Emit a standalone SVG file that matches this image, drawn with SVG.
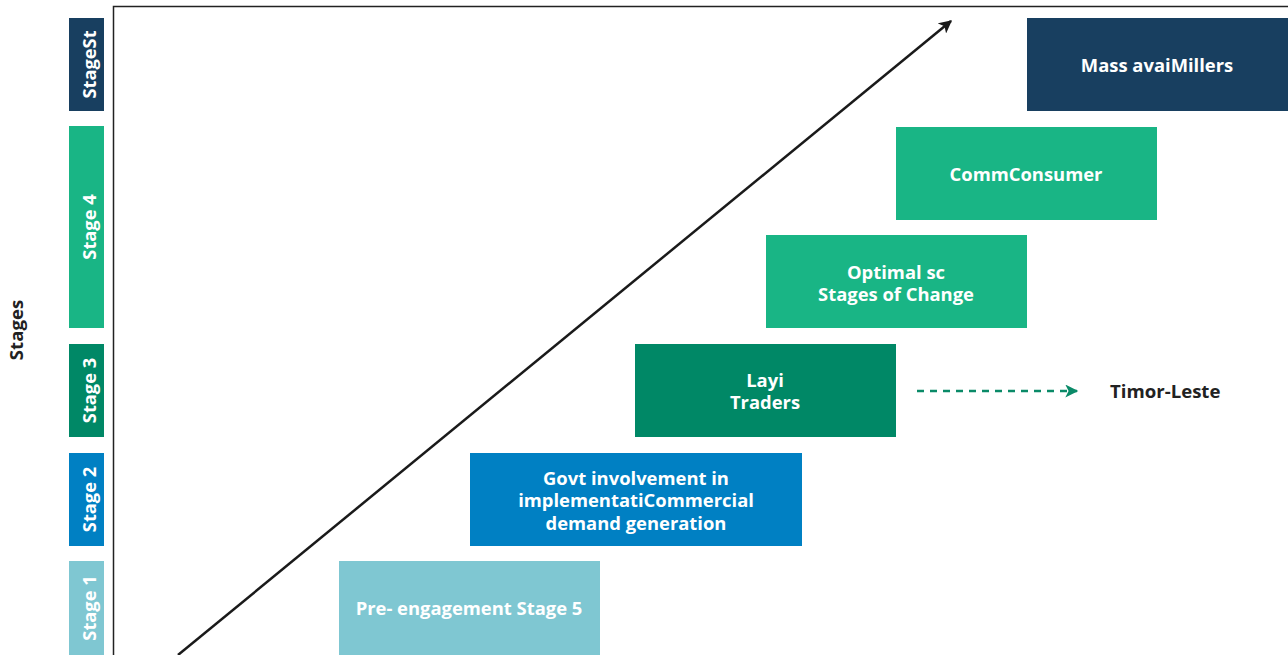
<svg xmlns="http://www.w3.org/2000/svg" width="1288" height="655" viewBox="0 0 1288 655">
<defs>
<style>
.t{font-family:"Open Sans","Liberation Sans",sans-serif;font-weight:bold;font-size:18.4px;fill:#fff;text-anchor:middle;dominant-baseline:central}
.s{font-family:"Open Sans","Liberation Sans",sans-serif;font-weight:bold;font-size:18.3px;fill:#fff;text-anchor:middle;dominant-baseline:central}
.d{font-family:"Open Sans","Liberation Sans",sans-serif;font-weight:bold;font-size:18.6px;fill:#222;dominant-baseline:central}
.navy{fill:#183f60}.green{fill:#19b585}.dgreen{fill:#008866}.blue{fill:#0080c3}.lblue{fill:#7fc7d2}
</style>
<marker id="ah" viewBox="0 0 10 10" refX="9" refY="5" markerWidth="14" markerHeight="13" markerUnits="userSpaceOnUse" orient="auto"><path d="M0,0 L10,5 L0,10 L2.5,5 z" fill="#1a1a1a"/></marker>
<marker id="ahg" viewBox="0 0 10 10" refX="9" refY="5" markerWidth="17" markerHeight="13" markerUnits="userSpaceOnUse" orient="auto"><path d="M0,0 L10,5 L0,10 L2.5,5 z" fill="#0a8a68"/></marker>
</defs>
<rect width="1288" height="655" fill="#fff"/>
<g id="frame"><path d="M113.5,655 V6.5 H1288" fill="none" stroke="#222" stroke-width="1.5"/></g>
<g id="axis-label"><text class="d" transform="translate(15,330) rotate(-90)" text-anchor="middle" font-size="17.5">Stages</text></g>
<g id="bar-stagest"><rect class="navy" x="69" y="18" width="35" height="93"/><text class="s" transform="translate(88,64.5) rotate(-90)">StageSt</text></g>
<g id="bar-stage4"><rect class="green" x="69" y="126" width="35" height="202"/><text class="s" transform="translate(88,227) rotate(-90)">Stage 4</text></g>
<g id="bar-stage3"><rect class="dgreen" x="69" y="344" width="35" height="93"/><text class="s" transform="translate(88,390.5) rotate(-90)">Stage 3</text></g>
<g id="bar-stage2"><rect class="blue" x="69" y="453" width="35" height="93"/><text class="s" transform="translate(88,499.5) rotate(-90)">Stage 2</text></g>
<g id="bar-stage1"><rect class="lblue" x="69" y="561" width="35" height="94"/><text class="s" transform="translate(88,608) rotate(-90)">Stage 1</text></g>
<g id="connectors">
<line x1="178" y1="655" x2="951" y2="21" stroke="#1a1a1a" stroke-width="2.5" marker-end="url(#ah)"/>
<line x1="917" y1="391" x2="1077" y2="391" stroke="#0a8a68" stroke-width="2.5" stroke-dasharray="7,6" marker-end="url(#ahg)"/>
</g>
<g id="node-mass"><rect class="navy" x="1027" y="18" width="261" height="93"/><text class="t" x="1157" y="64.5">Mass avaiMillers</text></g>
<g id="node-comm"><rect class="green" x="896" y="127" width="261" height="93"/><text class="t" x="1026" y="173.5">CommConsumer</text></g>
<g id="node-optimal"><rect class="green" x="766" y="235" width="261" height="93"/><text class="t" x="896" y="271">Optimal sc</text><text class="t" x="896" y="293.5">Stages of Change</text></g>
<g id="node-layi"><rect class="dgreen" x="635" y="344" width="261" height="93"/><text class="t" x="765" y="379">Layi</text><text class="t" x="765" y="401.5">Traders</text></g>
<g id="node-govt"><rect class="blue" x="470" y="453" width="332" height="93"/><text class="t" x="636" y="477">Govt involvement in</text><text class="t" x="636" y="499.5">implementatiCommercial</text><text class="t" x="636" y="522">demand generation</text></g>
<g id="node-pre"><rect class="lblue" x="339" y="561" width="261" height="94"/><text class="t" x="469" y="607.5">Pre- engagement Stage 5</text></g>
<g id="label-timor"><text class="d" x="1110" y="390.5">Timor-Leste</text></g>
</svg>
